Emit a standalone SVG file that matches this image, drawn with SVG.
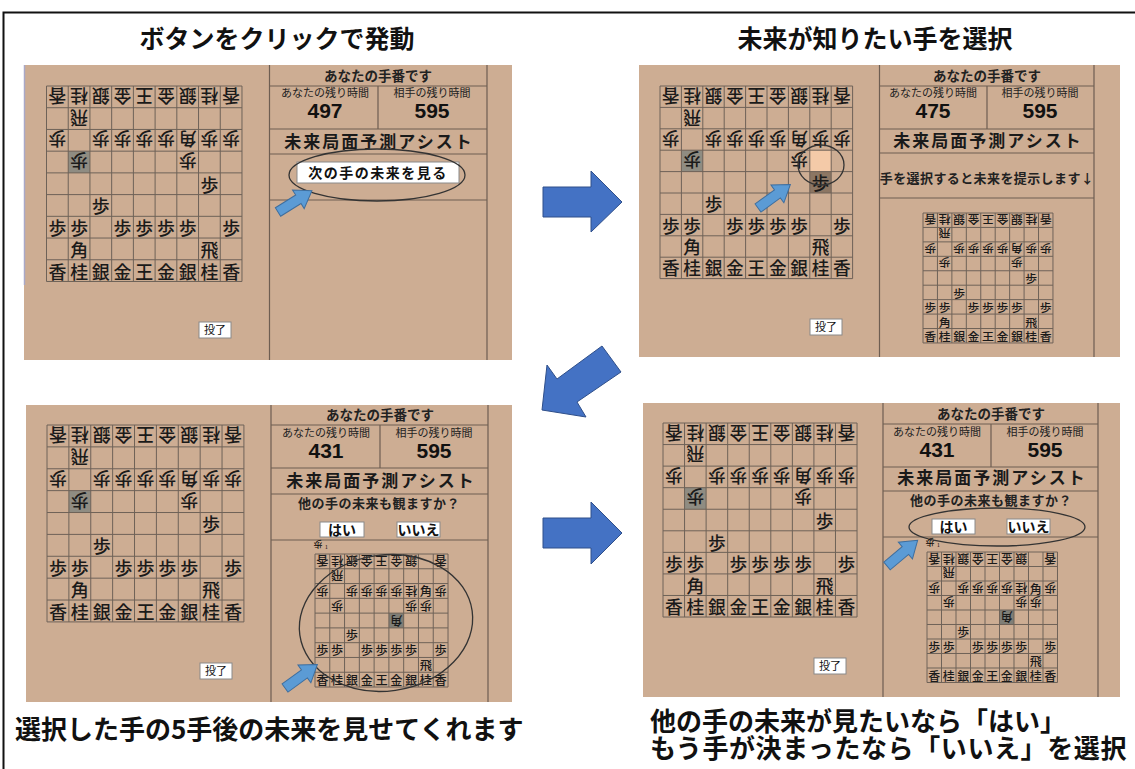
<svg xmlns="http://www.w3.org/2000/svg" xmlns:xlink="http://www.w3.org/1999/xlink" width="1135" height="769" viewBox="0 0 1135 769">
<style>
.jp{font-family:"Noto Sans CJK JP","Noto Sans CJK SC",sans-serif;}
.title{font-family:"Noto Sans CJK JP",sans-serif;font-size:25px;font-weight:700;fill:#111;}
.panel{fill:#CDAD93;}
.ln{stroke:#6E5E52;stroke-width:1.2;fill:none;}
.gl{stroke:#6E6258;stroke-width:1;fill:none;vector-effect:non-scaling-stroke;}
.pc{font-family:"Noto Sans CJK JP",sans-serif;font-size:16.5px;font-weight:500;fill:#1a1a1a;text-anchor:middle;dominant-baseline:central;}
.hd{font-family:"Noto Sans CJK JP",sans-serif;font-size:13.5px;font-weight:700;fill:#222;text-anchor:middle;}
.lb{font-family:"Noto Sans CJK JP",sans-serif;font-size:11px;fill:#222;text-anchor:middle;}
.num{font-family:"Liberation Sans",Arial,sans-serif;font-size:21px;font-weight:700;fill:#111;text-anchor:middle;}
.as{font-family:"Noto Sans CJK JP",sans-serif;font-size:17px;font-weight:700;fill:#1a1a1a;text-anchor:middle;letter-spacing:2px;}
.msg{font-family:"Noto Sans CJK JP",sans-serif;font-size:13px;font-weight:700;fill:#222;text-anchor:middle;}
.btn{fill:#fff;stroke:#8a8a8a;stroke-width:1;}
.bt{font-family:"Noto Sans CJK JP",sans-serif;font-size:14px;font-weight:700;fill:#111;text-anchor:middle;}
.tr{font-family:"Noto Sans CJK JP",sans-serif;font-size:11px;fill:#111;text-anchor:middle;}
.ell{fill:none;stroke:#333;stroke-width:1.3;}
.sarrow{fill:#5B9BD5;stroke:#3E6E9E;stroke-width:1;}
.barrow{fill:#4472C4;stroke:#2F4F8A;stroke-width:1;}
.cap{font-family:"Noto Sans CJK JP",sans-serif;font-size:26px;font-weight:700;fill:#111;}
</style>
<defs>
<g id="grid">
<rect x="0" y="0" width="180" height="180" class="gl"/>
<path class="gl" d="M20 0V180M40 0V180M60 0V180M80 0V180M100 0V180M120 0V180M140 0V180M160 0V180M0 20H180M0 40H180M0 60H180M0 80H180M0 100H180M0 120H180M0 140H180M0 160H180"/>
</g>
<g id="posA">
<text class="pc" x="10" y="10" transform="rotate(180 10 10)">香</text>
<text class="pc" x="30" y="10" transform="rotate(180 30 10)">桂</text>
<text class="pc" x="50" y="10" transform="rotate(180 50 10)">銀</text>
<text class="pc" x="70" y="10" transform="rotate(180 70 10)">金</text>
<text class="pc" x="90" y="10" transform="rotate(180 90 10)">王</text>
<text class="pc" x="110" y="10" transform="rotate(180 110 10)">金</text>
<text class="pc" x="130" y="10" transform="rotate(180 130 10)">銀</text>
<text class="pc" x="150" y="10" transform="rotate(180 150 10)">桂</text>
<text class="pc" x="170" y="10" transform="rotate(180 170 10)">香</text>
<text class="pc" x="30" y="30" transform="rotate(180 30 30)">飛</text>
<text class="pc" x="10" y="50" transform="rotate(180 10 50)">歩</text>
<text class="pc" x="50" y="50" transform="rotate(180 50 50)">歩</text>
<text class="pc" x="70" y="50" transform="rotate(180 70 50)">歩</text>
<text class="pc" x="90" y="50" transform="rotate(180 90 50)">歩</text>
<text class="pc" x="110" y="50" transform="rotate(180 110 50)">歩</text>
<text class="pc" x="130" y="50" transform="rotate(180 130 50)">角</text>
<text class="pc" x="150" y="50" transform="rotate(180 150 50)">歩</text>
<text class="pc" x="170" y="50" transform="rotate(180 170 50)">歩</text>
<text class="pc" x="30" y="70" transform="rotate(180 30 70)">歩</text>
<text class="pc" x="130" y="70" transform="rotate(180 130 70)">歩</text>
<text class="pc" x="150" y="90">歩</text>
<text class="pc" x="50" y="110">歩</text>
<text class="pc" x="10" y="130">歩</text>
<text class="pc" x="30" y="130">歩</text>
<text class="pc" x="70" y="130">歩</text>
<text class="pc" x="90" y="130">歩</text>
<text class="pc" x="110" y="130">歩</text>
<text class="pc" x="130" y="130">歩</text>
<text class="pc" x="170" y="130">歩</text>
<text class="pc" x="30" y="150">角</text>
<text class="pc" x="150" y="150">飛</text>
<text class="pc" x="10" y="170">香</text>
<text class="pc" x="30" y="170">桂</text>
<text class="pc" x="50" y="170">銀</text>
<text class="pc" x="70" y="170">金</text>
<text class="pc" x="90" y="170">王</text>
<text class="pc" x="110" y="170">金</text>
<text class="pc" x="130" y="170">銀</text>
<text class="pc" x="150" y="170">桂</text>
<text class="pc" x="170" y="170">香</text>
</g>
<g id="posB">
<text class="pc" x="10" y="10" transform="rotate(180 10 10)">香</text>
<text class="pc" x="30" y="10" transform="rotate(180 30 10)">桂</text>
<text class="pc" x="50" y="10" transform="rotate(180 50 10)">銀</text>
<text class="pc" x="70" y="10" transform="rotate(180 70 10)">金</text>
<text class="pc" x="90" y="10" transform="rotate(180 90 10)">王</text>
<text class="pc" x="110" y="10" transform="rotate(180 110 10)">金</text>
<text class="pc" x="130" y="10" transform="rotate(180 130 10)">銀</text>
<text class="pc" x="170" y="10" transform="rotate(180 170 10)">香</text>
<text class="pc" x="30" y="30" transform="rotate(180 30 30)">飛</text>
<text class="pc" x="10" y="50" transform="rotate(180 10 50)">歩</text>
<text class="pc" x="50" y="50" transform="rotate(180 50 50)">歩</text>
<text class="pc" x="70" y="50" transform="rotate(180 70 50)">歩</text>
<text class="pc" x="90" y="50" transform="rotate(180 90 50)">歩</text>
<text class="pc" x="110" y="50" transform="rotate(180 110 50)">歩</text>
<text class="pc" x="130" y="50" transform="rotate(180 130 50)">桂</text>
<text class="pc" x="150" y="50">角</text>
<text class="pc" x="170" y="50" transform="rotate(180 170 50)">歩</text>
<text class="pc" x="30" y="70" transform="rotate(180 30 70)">歩</text>
<text class="pc" x="130" y="70" transform="rotate(180 130 70)">歩</text>
<text class="pc" x="150" y="70" transform="rotate(180 150 70)">歩</text>
<text class="pc" x="110" y="90" transform="rotate(180 110 90)">角</text>
<text class="pc" x="50" y="110">歩</text>
<text class="pc" x="10" y="130">歩</text>
<text class="pc" x="30" y="130">歩</text>
<text class="pc" x="70" y="130">歩</text>
<text class="pc" x="90" y="130">歩</text>
<text class="pc" x="110" y="130">歩</text>
<text class="pc" x="130" y="130">歩</text>
<text class="pc" x="170" y="130">歩</text>
<text class="pc" x="150" y="150">飛</text>
<text class="pc" x="10" y="170">香</text>
<text class="pc" x="30" y="170">桂</text>
<text class="pc" x="50" y="170">銀</text>
<text class="pc" x="70" y="170">金</text>
<text class="pc" x="90" y="170">王</text>
<text class="pc" x="110" y="170">金</text>
<text class="pc" x="130" y="170">銀</text>
<text class="pc" x="150" y="170">桂</text>
<text class="pc" x="170" y="170">香</text>
</g>
<polygon id="sarrowShape" class="sarrow" points="0,-5 24,-5 24,-11 40,0 24,11 24,5 0,5"/>
</defs>

<!-- outer frame -->
<path d="M3.5 769V12.5H1135" fill="none" stroke="#111" stroke-width="2"/>

<!-- titles -->
<text class="title" x="277" y="48" text-anchor="middle">ボタンをクリックで発動</text>
<text class="title" x="875" y="48" text-anchor="middle">未来が知りたい手を選択</text>

<!-- Panel 1 -->
<g id="panel1">
<rect class="panel" x="24" y="65" width="488" height="295"/>
<line x1="24.5" y1="65" x2="24.5" y2="285" stroke="#A9A9C8" stroke-width="1.5"/>
<g transform="translate(46.5 86) scale(1.086)">
<rect x="20" y="60" width="20" height="20" fill="#8F8C82"/>
<use xlink:href="#grid"/>
<use xlink:href="#posA"/>
</g>
<rect class="btn" x="199" y="322" width="32" height="16"/>
<text class="tr" x="215" y="334">投了</text>
<path class="ln" d="M269.5 65V360M487 65V360M269.5 86H487M269.5 129H487M269.5 154H487M269.5 200H487M378 86V129"/>
<text class="hd" x="378" y="81">あなたの手番です</text>
<text class="lb" x="325" y="97">あなたの残り時間</text>
<text class="lb" x="432" y="97">相手の残り時間</text>
<text class="num" x="325" y="118">497</text>
<text class="num" x="432" y="118">595</text>
<text class="as" x="379" y="148">未来局面予測アシスト</text>
<rect class="btn" x="297" y="162" width="162" height="21"/>
<text class="bt" x="378" y="178" letter-spacing="1.5">次の手の未来を見る</text>
<ellipse class="ell" cx="377" cy="175" rx="88" ry="26"/>
<use xlink:href="#sarrowShape" transform="translate(278 212) rotate(-32)"/>
</g>

<!-- Panel 2 -->
<g id="panel2">
<rect class="panel" x="639" y="65" width="481" height="292"/>
<g transform="translate(660 86) scale(1.07)">
<rect x="20" y="60" width="20" height="20" fill="#8F8C82"/>
<rect x="140" y="60" width="20" height="20" fill="#F4CAA8"/>
<rect x="140" y="80" width="20" height="20" fill="#8C7663"/>
<use xlink:href="#grid"/>
<use xlink:href="#posA"/>
</g>
<ellipse class="ell" cx="821" cy="165" rx="23" ry="20"/>
<use xlink:href="#sarrowShape" transform="translate(758 208) rotate(-36)"/>
<rect class="btn" x="810" y="319" width="32" height="16"/>
<text class="tr" x="826" y="331">投了</text>
<path class="ln" d="M879.5 65V357M1094 65V357M879.5 86H1094M879.5 129H1094M879.5 153H1094M879.5 198H1094M987 86V129"/>
<text class="hd" x="987" y="81">あなたの手番です</text>
<text class="lb" x="933" y="97">あなたの残り時間</text>
<text class="lb" x="1040" y="97">相手の残り時間</text>
<text class="num" x="933" y="118">475</text>
<text class="num" x="1040" y="118">595</text>
<text class="as" x="988" y="147">未来局面予測アシスト</text>
<text class="msg" x="987" y="183" font-size="12.5" letter-spacing="0.4">手を選択すると未来を提示します↓</text>
<g transform="translate(923 213) scale(0.722)">
<use xlink:href="#grid"/>
<use xlink:href="#posA"/>
</g>
</g>

<!-- Panel 3 -->
<g id="panel3">
<rect class="panel" x="26" y="405" width="486" height="297"/>
<g transform="translate(47 425) scale(1.094)">
<rect x="20" y="60" width="20" height="20" fill="#8F8C82"/>
<use xlink:href="#grid"/>
<use xlink:href="#posA"/>
</g>
<rect class="btn" x="200" y="663" width="32" height="16"/>
<text class="tr" x="216" y="675">投了</text>
<path class="ln" d="M271 405V702M488 405V702M271 425H488M271 468H488M271 494H488M271 540H488M380 425V468"/>
<text class="hd" x="380" y="420">あなたの手番です</text>
<text class="lb" x="326" y="437">あなたの残り時間</text>
<text class="lb" x="434" y="437">相手の残り時間</text>
<text class="num" x="326" y="458">431</text>
<text class="num" x="434" y="458">595</text>
<text class="as" x="381" y="487">未来局面予測アシスト</text>
<text class="msg" x="379" y="508" letter-spacing="0.5">他の手の未来も観ますか？</text>
<rect class="btn" x="320" y="522" width="44" height="15"/>
<text class="bt" x="342" y="535">はい</text>
<rect class="btn" x="397" y="522" width="43" height="15"/>
<text class="bt" x="418.5" y="535">いいえ</text>
<text class="jp" x="318" y="547" font-size="9" text-anchor="middle" transform="rotate(180 318 544)">歩</text>
<text class="jp" x="325" y="549" font-size="5">1</text>
<g transform="translate(315 554) scale(0.739)">
<rect x="100" y="80" width="20" height="20" fill="#7F7E77"/>
<use xlink:href="#grid"/>
<use xlink:href="#posB"/>
</g>
<ellipse class="ell" cx="386" cy="623" rx="87" ry="68" transform="rotate(-8 386 623)"/>
<use xlink:href="#sarrowShape" transform="translate(285 688) rotate(-36)"/>
</g>

<!-- Panel 4 -->
<g id="panel4">
<rect class="panel" x="643" y="403" width="477" height="294"/>
<g transform="translate(663 423) scale(1.078)">
<rect x="20" y="60" width="20" height="20" fill="#8F8C82"/>
<use xlink:href="#grid"/>
<use xlink:href="#posA"/>
</g>
<rect class="btn" x="814" y="658" width="32" height="16"/>
<text class="tr" x="830" y="670">投了</text>
<path class="ln" d="M883 403V697M1098 403V697M883 424H1098M883 467H1098M883 491H1098M883 537H1098M991 424V467"/>
<text class="hd" x="991" y="419">あなたの手番です</text>
<text class="lb" x="937" y="436">あなたの残り時間</text>
<text class="lb" x="1045" y="436">相手の残り時間</text>
<text class="num" x="937" y="457">431</text>
<text class="num" x="1045" y="457">595</text>
<text class="as" x="992" y="484">未来局面予測アシスト</text>
<text class="msg" x="991" y="505" letter-spacing="0.5">他の手の未来も観ますか？</text>
<rect class="btn" x="932" y="519" width="43" height="15"/>
<text class="bt" x="953.5" y="532">はい</text>
<rect class="btn" x="1007" y="519" width="43" height="15"/>
<text class="bt" x="1028.5" y="532">いいえ</text>
<ellipse class="ell" cx="997" cy="527" rx="88" ry="19"/>
<use xlink:href="#sarrowShape" transform="translate(887 566) rotate(-40)"/>
<text class="jp" x="930" y="545" font-size="9" text-anchor="middle" transform="rotate(180 930 542)">歩</text>
<text class="jp" x="937" y="547" font-size="5">1</text>
<g transform="translate(927 552) scale(0.725)">
<rect x="100" y="80" width="20" height="20" fill="#7F7E77"/>
<use xlink:href="#grid"/>
<use xlink:href="#posB"/>
</g>
</g>

<!-- connectors: big flow arrows -->
<g id="connectors">
<polygon class="barrow" points="543,187 591,187 591,171 622,202 591,232 591,217 543,217"/>
<polygon class="barrow" points="602,346 621,372 577,402 586,417 542,410 547,365 557,379"/>
<polygon class="barrow" points="543,518 591,518 591,502 622,533 591,564 591,548 543,548"/>
</g>

<!-- captions -->
<text class="cap" x="15" y="739">選択した手の5手後の未来を見せてくれます</text>
<text class="cap" font-size="25"><tspan x="650" y="731">他の手の未来が見たいなら「はい」</tspan><tspan x="650" y="758" letter-spacing="0.6">もう手が決まったなら「いいえ」を選択</tspan></text>
</svg>
